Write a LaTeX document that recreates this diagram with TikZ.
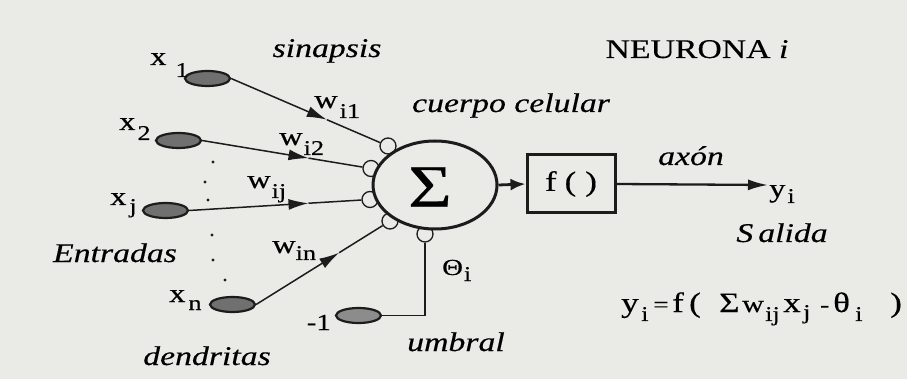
\documentclass[tikz,border=0pt]{standalone}
\usepackage{fontspec}
\setmainfont{Liberation Serif}[FakeStretch=1.25,FakeBold=0.4]
\usetikzlibrary{shapes.geometric,calc,arrows.meta}
\definecolor{bg}{RGB}{234,234,231}
\definecolor{ink}{RGB}{28,28,28}
\definecolor{cellfill}{RGB}{112,112,112}
\definecolor{biasfill}{RGB}{140,140,140}
\newcommand{\fs}[1]{\fontsize{#1}{#1}\selectfont}
\newcommand{\lsub}[4]{#1\kern#3\raisebox{-#4}{\fs{21}#2}}
\newcommand{\putat}[2]{\rlap{\kern#1#2}}
\newcommand{\lowsub}[1]{\raisebox{-9pt}{\fs{21}#1}}
\begin{document}
\begin{tikzpicture}[x=1pt,y=-1pt,
  inp/.style={ellipse, draw=ink, line width=2.2pt, fill=cellfill, minimum width=45pt, minimum height=15pt, inner sep=0pt},
  syn/.style={circle, draw=ink, line width=1.3pt, fill=bg, minimum size=16pt, inner sep=0pt},
  wire/.style={draw=ink, line width=1.5pt},
  tipped/.style={draw=ink, line width=1.5pt, -{Latex[length=20pt,width=11pt]}},
  lbl/.style={font=\fs{27}\itshape, inner sep=0pt, anchor=base},
  sym/.style={font=\fs{26}, inner sep=0pt, anchor=base west},
  dotmark/.style={circle, fill=ink, minimum size=3.4pt, inner sep=0pt}
]
\useasboundingbox[fill=bg] (0,0) rectangle (907,379);

% synapse circles (drawn before the cell body so their inner halves are hidden)
\node[syn] (s1) at (388,146) {};
\node[syn] (s2) at (371,168.5) {};
\node[syn] (s3) at (370,199.5) {};
\node[syn] (s4) at (390,221) {};
\node[syn] (s5) at (425,234) {};

% cell body
\node[ellipse, draw=ink, line width=3pt, fill=bg, minimum width=124pt, minimum height=88pt, inner sep=0pt] (sum) at (435,185) {};
\node[font=\fs{60}, inner sep=0pt] (sigma) at (430,187) {Σ};

% activation box
\node[draw=ink, line width=3pt, minimum width=88pt, minimum height=58pt, inner sep=0pt, font=\fs{28}] (fbox) at (571,184) {f\kern8pt(\kern9pt)};

% inputs
\node[inp] (x1e) at (207.5,78.5) {};
\node[inp] (x2e) at (178.5,140.5) {};
\node[inp] (xje) at (165.5,210.5) {};
\node[inp] (xne) at (232.5,304.5) {};
\node[inp, fill=biasfill] (me) at (358.5,315.5) {};

% dendrite connectors with their arrowheads part way
\coordinate (m1) at ($(x1e.east)!0.61!(s1)$);
\coordinate (m2) at ($(x2e.east)!0.63!(s2)$);
\coordinate (m3) at ($(xje.east)!0.66!(s3)$);
\coordinate (m4) at ($(xne.east)!0.62!(s4)$);
\draw[tipped] (x1e.east) -- (m1);
\draw[wire] (m1) -- (s1);
\draw[tipped] (x2e.east) -- (m2);
\draw[wire] (m2) -- (s2);
\draw[tipped] (xje.east) -- (m3);
\draw[wire] (m3) -- (s3);
\draw[tipped] (xne.east) -- (m4);
\draw[wire] (m4) -- (s4);
\draw[draw=ink, line width=1.9pt] (me.east) -| (s5);

\draw[draw=ink, line width=2.8pt, -{Latex[length=15pt,width=12pt]}] (sum.east) -- (fbox.west);
\coordinate (yend) at (768,185);
\draw[draw=ink, line width=2.3pt, -{Latex[length=20pt,width=11pt]}] (fbox.east) -- (yend);

% dots
\node[dotmark] (d1) at (213,162) {};
\node[dotmark] (d2) at (205,182) {};
\node[dotmark] (d3) at (208,200) {};
\node[dotmark] (d4) at (212,235) {};
\node[dotmark] (d5) at (213,260) {};
\node[dotmark] (d6) at (225,280) {};

% input labels
\node[sym] (lx1) at (150,65) {\lsub{x}{1}{9pt}{12pt}};
\node[sym] (lx2) at (119,130) {\lsub{x}{2}{2pt}{10pt}};
\node[sym] (lxj) at (110,205) {\lsub{x}{j}{3pt}{8pt}};
\node[sym] (lxn) at (169,302) {\lsub{x}{n}{3pt}{8pt}};

% weights
\node[sym] (w1) at (314,108) {\lsub{w}{i1}{2pt}{10pt}};
\node[sym] (w2) at (279,145) {\lsub{w}{i2}{1pt}{10pt}};
\node[sym] (wj) at (247,188) {\lsub{w}{ij}{1pt}{10pt}};
\node[sym] (wn) at (272,253) {\lsub{w}{in}{0pt}{7pt}};

% threshold
\node[sym, font=\fs{23}] (theta) at (442,275) {\lsub{Θ}{i}{1pt}{6pt}};
\node[font=\fs{23}, inner sep=0pt, anchor=base east] (minus) at (331,330) {-1};

% output
\node[sym] (yi) at (769,197) {\lsub{y}{i}{2pt}{6pt}};

% text labels
\node[lbl] (sinapsis) at (327,57) {sinapsis};
\node[font=\fs{27}, inner sep=0pt, anchor=base] (title) at (697,58) {NEURONA \textit{i}};
\node[lbl] (cuerpo) at (511,112) {cuerpo celular};
\node[lbl] (axon) at (691,165) {axón};
\node[lbl] (salida) at (782,242) {S\kern5pt alida};
\node[lbl] (entradas) at (115,262) {Entradas};
\node[lbl] (dendritas) at (207,365) {dendritas};
\node[lbl] (umbral) at (456,351) {umbral};

% equation
\node[font=\fs{28}, inner sep=0pt, anchor=base west] (eq) at (621,312) {\putat{0pt}{y}\putat{20pt}{\lowsub{i}}\putat{32pt}{\fs{22}=}\putat{51pt}{f}\putat{68pt}{(}\putat{98pt}{Σ}\putat{121pt}{\fs{24}w}\putat{144pt}{\lowsub{ij}}\putat{162pt}{x}\putat{182pt}{\raisebox{-7pt}{\fs{21}j}}\putat{199pt}{\fs{22}-}\putat{212pt}{θ}\putat{234pt}{\lowsub{i}}\putat{269pt}{)}\hphantom{\kern280pt}};
\end{tikzpicture}
\end{document}
